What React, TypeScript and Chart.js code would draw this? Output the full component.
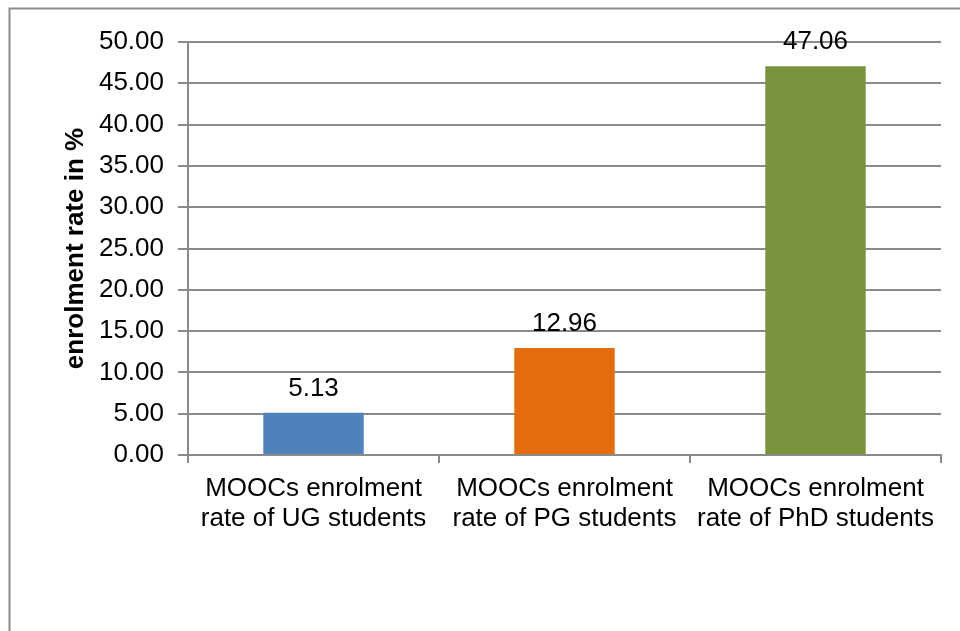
import React, { useEffect, useRef } from "react";
import { Chart, registerables } from "chart.js";

Chart.register(...registerables);

// Categories and enrolment rates (%)
const categories: string[][] = [
  ["MOOCs enrolment", "rate of UG students"],
  ["MOOCs enrolment", "rate of PG students"],
  ["MOOCs enrolment", "rate of PhD students"],
];
const enrolmentRates: number[] = [5.13, 12.96, 47.06];
const barColors: string[] = ["#4F81BD", "#E46C0A", "#77933C"];
const yAxisTitle = "enrolment rate in %";
const yMin = 0;
const yMax = 50;
const yStep = 5;

const FONT = '"Liberation Sans", Arial, sans-serif';
const GRID = "#8a8a8a";

// Frame around the chart area and value labels above the bars
const decorations = {
  id: "decorations",
  beforeDraw(chart: Chart) {
    const ctx = chart.ctx;
    ctx.save();
    ctx.strokeStyle = "#8c8c8c";
    ctx.lineWidth = 2;
    ctx.strokeRect(9.5, 8.5, 3000, 3000);
    ctx.restore();
  },
  afterDatasetsDraw(chart: Chart) {
    const ctx = chart.ctx;
    const meta = chart.getDatasetMeta(0);
    const values = chart.data.datasets[0].data as number[];
    ctx.save();
    ctx.font = `26px ${FONT}`;
    ctx.fillStyle = "#000";
    ctx.textAlign = "center";
    ctx.textBaseline = "alphabetic";
    meta.data.forEach((bar: any, i: number) => {
      ctx.fillText(values[i].toFixed(2), bar.x, bar.y - 17);
    });
    ctx.restore();
  },
};

export default function App() {
  const canvasRef = useRef<HTMLCanvasElement | null>(null);

  useEffect(() => {
    if (!canvasRef.current) return;
    const chart = new Chart(canvasRef.current, {
      type: "bar",
      data: {
        labels: categories,
        datasets: [
          {
            data: enrolmentRates,
            backgroundColor: barColors,
            borderWidth: 0,
            categoryPercentage: 1,
            barPercentage: 0.4,
          },
        ],
      },
      options: {
        animation: false,
        responsive: false,
        devicePixelRatio: 1,
        layout: { padding: { left: 0, top: 42, right: 19, bottom: 0 } },
        plugins: {
          legend: { display: false },
          tooltip: { enabled: false },
        },
        scales: {
          x: {
            offset: true,
            grid: {
              offset: true,
              drawOnChartArea: false,
              drawTicks: true,
              tickLength: 8,
              color: GRID,
              lineWidth: 2,
            },
            border: { color: GRID, width: 2 },
            ticks: {
              color: "#000",
              font: { family: FONT, size: 26, lineHeight: 1.18 },
              padding: 10,
              maxRotation: 0,
              minRotation: 0,
              autoSkip: false,
            },
            afterFit: (scale: any) => {
              scale.height = 176;
            },
          },
          y: {
            min: yMin,
            max: yMax,
            grid: {
              color: GRID,
              lineWidth: 2,
              tickLength: 10,
              drawTicks: true,
            },
            border: { color: GRID, width: 2 },
            ticks: {
              stepSize: yStep,
              color: "#000",
              font: { family: FONT, size: 26 },
              padding: 14,
              callback: (v: any) => Number(v).toFixed(2),
            },
            title: {
              display: true,
              text: yAxisTitle,
              color: "#000",
              font: { family: FONT, size: 26, weight: "bold", lineHeight: 1.2 },
              padding: { top: 60, bottom: 0 },
            },
            afterFit: (scale: any) => {
              scale.width = 188;
            },
          },
        },
      },
      plugins: [decorations],
    });
    return () => chart.destroy();
  }, []);

  return (
    <div style={{ position: "fixed", left: 0, top: 0, width: 960, height: 631, background: "#fff" }}>
      <canvas ref={canvasRef} width={960} height={631} style={{ display: "block" }} />
    </div>
  );
}
